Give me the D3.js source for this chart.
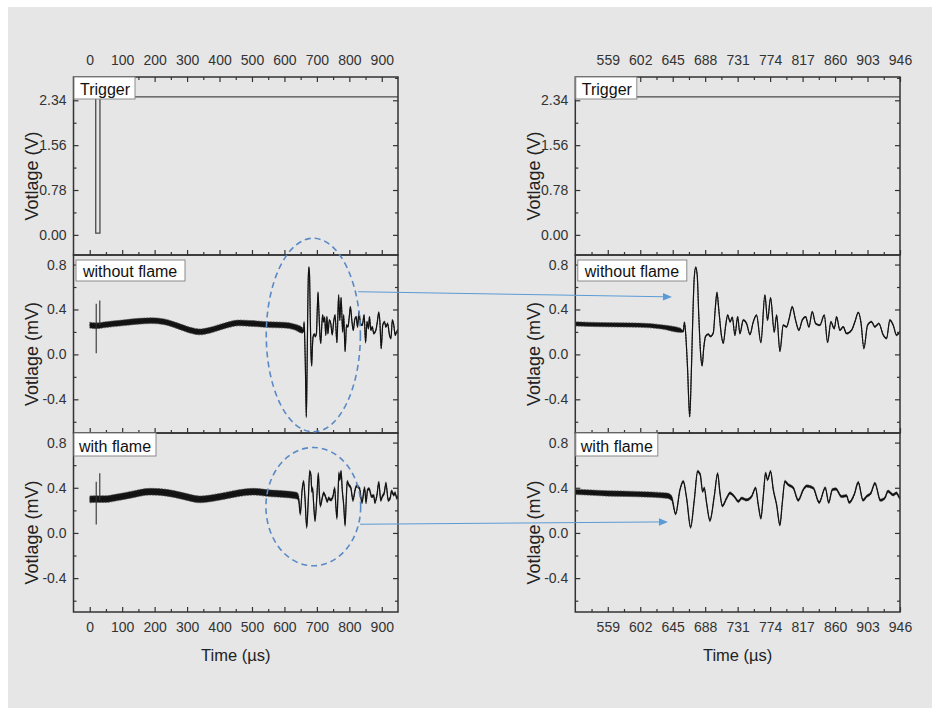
<!DOCTYPE html>
<html><head><meta charset="utf-8">
<script src="https://cdn.jsdelivr.net/npm/d3@7"></script>
<style>html,body{margin:0;padding:0;background:#fff}svg{display:block}text{font-family:"Liberation Sans",Arial,sans-serif}</style>
</head><body><svg id="chart" width="932" height="713"></svg>
<script>
// ---------------- DATA ----------------
const leftTimeDomain = [-50, 950];
const rightTimeDomain = [516, 946];
const leftTimeTicks = [0, 100, 200, 300, 400, 500, 600, 700, 800, 900];
const leftTimeMinor = [50, 150, 250, 350, 450, 550, 650, 750, 850];
const rightTimeTicks = [559, 602, 645, 688, 731, 774, 817, 860, 903, 946];
const rightTimeMinor = [537.5, 580.5, 623.5, 666.5, 709.5, 752.5, 795.5, 838.5, 881.5, 924.5];
const triggerDomain = [-0.35, 2.745];
const triggerTicks = [0, 0.78, 1.56, 2.34];
const triggerMinor = [0.39, 1.17, 1.95, 2.73];
const mvDomain = [-0.7, 0.885];
const mvTicks = [-0.4, 0.0, 0.4, 0.8];
const mvMinor = [-0.6, -0.2, 0.2, 0.6];
const panelLabels = ["Trigger", "without flame", "with flame"];
const yTitles = ["Votlage (V)", "Votlage (mV)", "Votlage (mV)"];
const xTitle = "Time (\u00b5s)";

// trigger trace: [time µs, volts]
const triggerTrace = [[0, 2.40], [18.5, 2.40], [18.5, 0.03], [31.5, 0.03], [31.5, 2.40], [950, 2.40]];

// without flame: [time µs, mV]
const withoutFlame = [[0,0.26],[20,0.255],[50,0.265],[100,0.28],[150,0.295],[190,0.30],[230,0.29],[270,0.255],[310,0.215],[340,0.20],[370,0.215],[410,0.25],[460,0.28],[500,0.275],[550,0.265],[600,0.26],[630,0.245],[655,0.215],[659,0.205],
[660.5,0.285],[662,0.2],[664.5,-0.1],[667.5,-0.555],[669.5,-0.2],[671.5,0.3],[673.5,0.68],[675.5,0.775],[677.5,0.7],[679.5,0.35],[682,0.0],[684,-0.1],[686,0.05],[688.5,0.16],[692,0.18],[695,0.16],[698.7,0.19],[701.5,0.42],[703.6,0.55],[706,0.4],[709.8,0.155],[712,0.1],[715,0.25],[717.8,0.35],[721,0.29],[723.9,0.33],[727.4,0.172],[731,0.334],[734,0.186],[738.4,0.305],[742.8,0.275],[747.3,0.177],[751.7,0.29],[756,0.349],[761.8,0.107],[767.1,0.527],[770.6,0.305],[774.6,0.503],[779.5,0.2],[782.6,0.349],[787,0.029],[791.4,0.26],[795.8,0.245],[799.3,0.32],[803.3,0.423],[807.7,0.305],[812.1,0.216],[816.5,0.305],[821,0.334],[825.4,0.245],[829.8,0.379],[834.2,0.275],[839.9,0.26],[845.7,0.349],[850.1,0.107],[854.5,0.29],[858.9,0.23],[862,0.334],[866.4,0.216],[870.8,0.245],[875.2,0.186],[881.9,0.216],[886.3,0.29],[890.7,0.373],[894.2,0.29],[898.2,0.053],[903,0.26],[908.3,0.29],[912.7,0.245],[918,0.275],[923.8,0.172],[928.2,0.142],[932.6,0.305],[937,0.26],[941.4,0.172],[945.8,0.2],[950,0.22]];

// with flame: [time µs, mV]
const withFlame = [[0,0.297],[20,0.30],[50,0.30],[83,0.314],[130,0.34],[186,0.365],[237,0.356],[290,0.325],[340,0.297],[390,0.315],[443,0.344],[504,0.365],[560,0.35],[597,0.344],[638,0.33],[643.6,0.308],
[648.9,0.169],[654.6,0.382],[659,0.456],[663.4,0.308],[668.7,0.051],[673.6,0.293],[678,0.545],[681.5,0.516],[684.6,0.368],[686.8,0.397],[689.9,0.264],[694.3,0.11],[700,0.323],[704.5,0.525],[707.6,0.353],[710.7,0.24],[716.4,0.308],[720.8,0.353],[727.4,0.315],[731.8,0.279],[736.2,0.308],[742.8,0.293],[749.5,0.323],[754.8,0.397],[758.3,0.249],[761.8,0.131],[764.9,0.323],[768,0.53],[770.6,0.471],[774.6,0.545],[778.2,0.383],[782.6,0.249],[787,0.071],[790.1,0.264],[793.6,0.456],[798,0.427],[804.6,0.40],[811.2,0.29],[817.9,0.383],[822.3,0.415],[831.1,0.397],[839,0.27],[847,0.40],[851.6,0.27],[856.3,0.383],[861,0.39],[868.6,0.323],[875.2,0.33],[878.7,0.27],[885.4,0.34],[890.7,0.447],[897,0.29],[901.7,0.323],[907.5,0.353],[912.8,0.44],[920,0.29],[926,0.31],[930,0.37],[937,0.338],[941.4,0.353],[945.8,0.31],[950,0.32]];

// isolated vertical spikes: [time µs, low mV, high mV]
const withoutFlameSpikes = [[20, 0.01, 0.45], [31, 0.26, 0.48]];
const withFlameSpikes = [[20, 0.074, 0.454], [31, 0.29, 0.528]];

// noise envelope half-width: [from µs, to µs, left view mV, right view mV]
const withoutFlameNoise = [[0, 659, 0.026, 0.019], [659, 960, 0.008, 0.007]];
const withFlameNoise = [[0, 644, 0.030, 0.024], [644, 960, 0.013, 0.011]];

// annotations (data coordinates)
const ellipses = [{row: 1, t: 689, v: 0.172, dt: 145, dv: 0.862}, {row: 2, t: 689, v: 0.233, dt: 146, dv: 0.524}];
const arrows = [{row: 1, from: [827, 0.558], to: [644, 0.512]}, {row: 2, from: [833, 0.077], to: [638.7, 0.098]}];

// ---------------- LAYOUT ----------------
const svg = d3.select('#chart');
svg.append('rect').attr('x', 8).attr('y', 7).attr('width', 924).attr('height', 701).attr('fill', '#e6e6e6');

const cols = [
  {x0: 73.5, x1: 398, domain: leftTimeDomain, ticks: leftTimeTicks, minor: leftTimeMinor, fmt: d => String(d), ytitleX: 32},
  {x0: 575.3, x1: 900, domain: rightTimeDomain, ticks: rightTimeTicks, minor: rightTimeMinor, fmt: d => String(d), ytitleX: 533.5}
];
const rows = [
  {y0: 77, y1: 255, domain: triggerDomain, ticks: triggerTicks, minor: triggerMinor, fmt: d => d.toFixed(2)},
  {y0: 255, y1: 433, domain: mvDomain, ticks: mvTicks, minor: mvMinor, fmt: d => d.toFixed(1)},
  {y0: 433, y1: 612, domain: mvDomain, ticks: mvTicks, minor: mvMinor, fmt: d => d.toFixed(1)}
];
cols.forEach(c => c.x = d3.scaleLinear().domain(c.domain).range([c.x0, c.x1]));
rows.forEach(r => r.y = d3.scaleLinear().domain(r.domain).range([r.y1, r.y0]));

const labelBoxes = [
  {dx: 0.5, dy: 0, w: 61, h: 22, tx: 6.5, ty: 17.5},
  {dx: 2.5, dy: 5, w: 109, h: 21, tx: 9.5, ty: 21.7},
  {dx: 0.5, dy: 0, w: 82, h: 23, tx: 5.5, ty: 18.7}
];

const axisColor = '#333';
function styleAxis(g) {
  g.select('.domain').remove();
  g.selectAll('line').attr('stroke', axisColor).attr('stroke-width', 1.2);
  g.selectAll('text').attr('fill', '#333').style('font-size', '14px').style('font-family', '"Liberation Sans",Arial,sans-serif');
}

const series = [null, {data: withoutFlame, spikes: withoutFlameSpikes, noise: withoutFlameNoise}, {data: withFlame, spikes: withFlameSpikes, noise: withFlameNoise}];
const curve = d3.curveMonotoneX;

cols.forEach((c, ci) => {
  rows.forEach((r, ri) => {
    const g = svg.append('g');
    const clipId = `clip-${ci}-${ri}`;
    svg.append('clipPath').attr('id', clipId).append('rect')
      .attr('x', c.x0).attr('y', r.y0).attr('width', c.x1 - c.x0).attr('height', r.y1 - r.y0);
    const plot = g.append('g').attr('clip-path', `url(#${clipId})`);

    if (ri === 0) {
      plot.append('path').datum(triggerTrace)
        .attr('d', d3.line().x(d => c.x(d[0])).y(d => r.y(d[1])))
        .attr('fill', 'none').attr('stroke', '#4a4a4a').attr('stroke-width', 1.3);
    } else {
      const s = series[ri];
      const nAt = t => { const seg = s.noise.find(q => t >= q[0] && t < q[1]); return seg ? seg[2 + ci] : 0; };
      plot.append('path').datum(s.data)
        .attr('d', d3.area().curve(curve).x(d => c.x(d[0])).y0(d => r.y(d[1] - nAt(d[0]))).y1(d => r.y(d[1] + nAt(d[0]))))
        .attr('fill', '#151515').attr('stroke', '#555').attr('stroke-width', 0.7).attr('stroke-dasharray', '2,1');
      plot.append('path').datum(s.data)
        .attr('d', d3.line().curve(curve).x(d => c.x(d[0])).y(d => r.y(d[1])))
        .attr('fill', 'none').attr('stroke', '#111').attr('stroke-width', 1.2).attr('stroke-linejoin', 'round');
      plot.selectAll('line.spike').data(s.spikes).join('line').attr('class', 'spike')
        .attr('x1', d => c.x(d[0])).attr('x2', d => c.x(d[0]))
        .attr('y1', d => r.y(d[1])).attr('y2', d => r.y(d[2]))
        .attr('stroke', '#333').attr('stroke-width', 1.1);
    }

    // axes
    g.append('g').attr('transform', `translate(${c.x0},0)`)
      .call(d3.axisLeft(r.y).tickValues(r.ticks).tickSizeInner(-5).tickSizeOuter(0).tickPadding(7).tickFormat(r.fmt)).call(styleAxis);
    g.append('g').attr('transform', `translate(${c.x0},0)`)
      .call(d3.axisLeft(r.y).tickValues(r.minor).tickSizeInner(-3).tickSizeOuter(0).tickFormat('')).call(styleAxis);
    g.append('g').attr('transform', `translate(${c.x1},0)`)
      .call(d3.axisRight(r.y).tickValues(r.ticks).tickSizeInner(-5).tickSizeOuter(0).tickFormat('')).call(styleAxis);
    g.append('g').attr('transform', `translate(${c.x1},0)`)
      .call(d3.axisRight(r.y).tickValues(r.minor).tickSizeInner(-3).tickSizeOuter(0).tickFormat('')).call(styleAxis);
    g.append('g').attr('transform', `translate(0,${r.y1})`)
      .call(d3.axisBottom(c.x).tickValues(c.ticks).tickSizeInner(-5).tickSizeOuter(0).tickPadding(10).tickFormat(ri === 2 ? c.fmt : '')).call(styleAxis);
    g.append('g').attr('transform', `translate(0,${r.y1})`)
      .call(d3.axisBottom(c.x).tickValues(c.minor).tickSizeInner(-3).tickSizeOuter(0).tickFormat('')).call(styleAxis);
    if (ri === 0) {
      g.append('g').attr('transform', `translate(0,${r.y0})`)
        .call(d3.axisTop(c.x).tickValues(c.ticks).tickSizeInner(-5).tickSizeOuter(0).tickPadding(12).tickFormat(c.fmt)).call(styleAxis);
      g.append('g').attr('transform', `translate(0,${r.y0})`)
        .call(d3.axisTop(c.x).tickValues(c.minor).tickSizeInner(-3).tickSizeOuter(0).tickFormat('')).call(styleAxis);
    }

    // frame
    g.append('rect').attr('x', c.x0).attr('y', r.y0).attr('width', c.x1 - c.x0).attr('height', r.y1 - r.y0)
      .attr('fill', 'none').attr('stroke', axisColor).attr('stroke-width', 1.5);

    // panel label
    const lb = labelBoxes[ri];
    g.append('rect').attr('x', c.x0 + lb.dx).attr('y', r.y0 + lb.dy).attr('width', lb.w).attr('height', lb.h)
      .attr('fill', '#fff').attr('stroke', '#8a8a8a').attr('stroke-width', 1);
    g.append('text').attr('x', c.x0 + lb.tx).attr('y', r.y0 + lb.ty).text(panelLabels[ri])
      .attr('fill', '#111').style('font-size', '16px');

    // y title
    const cy = (r.y0 + r.y1) / 2 + 10;
    g.append('text').attr('transform', `translate(${c.ytitleX},${cy}) rotate(-90)`)
      .attr('text-anchor', 'middle').attr('dy', '0.35em').text(yTitles[ri])
      .attr('fill', '#222').style('font-size', '18px');
  });
  // x title
  svg.append('text').attr('x', (c.x0 + c.x1) / 2).attr('y', 661).attr('text-anchor', 'middle')
    .text(xTitle).attr('fill', '#222').style('font-size', '16.5px');
});

// annotations
const L = cols[0], R = cols[1];
ellipses.forEach(e => {
  const r = rows[e.row];
  svg.append('ellipse').attr('cx', L.x(e.t)).attr('cy', r.y(e.v))
    .attr('rx', L.x(e.t + e.dt) - L.x(e.t)).attr('ry', r.y(e.v - e.dv) - r.y(e.v))
    .attr('fill', 'none').attr('stroke', '#5a8ac6').attr('stroke-width', 1.6).attr('stroke-dasharray', '6,4');
});
arrows.forEach(a => {
  const r = rows[a.row];
  const x1 = L.x(a.from[0]), y1 = r.y(a.from[1]), x2 = R.x(a.to[0]), y2 = r.y(a.to[1]);
  const ang = Math.atan2(y2 - y1, x2 - x1), len = 9, hw = 3.8;
  const bx = x2 - len * Math.cos(ang), by = y2 - len * Math.sin(ang);
  svg.append('line').attr('x1', x1).attr('y1', y1).attr('x2', bx).attr('y2', by)
    .attr('stroke', '#5b9bd5').attr('stroke-width', 1);
  const px = -Math.sin(ang) * hw, py = Math.cos(ang) * hw;
  svg.append('path').attr('d', `M${x2},${y2}L${bx + px},${by + py}L${bx - px},${by - py}Z`).attr('fill', '#5b9bd5');
});
</script></body></html>
